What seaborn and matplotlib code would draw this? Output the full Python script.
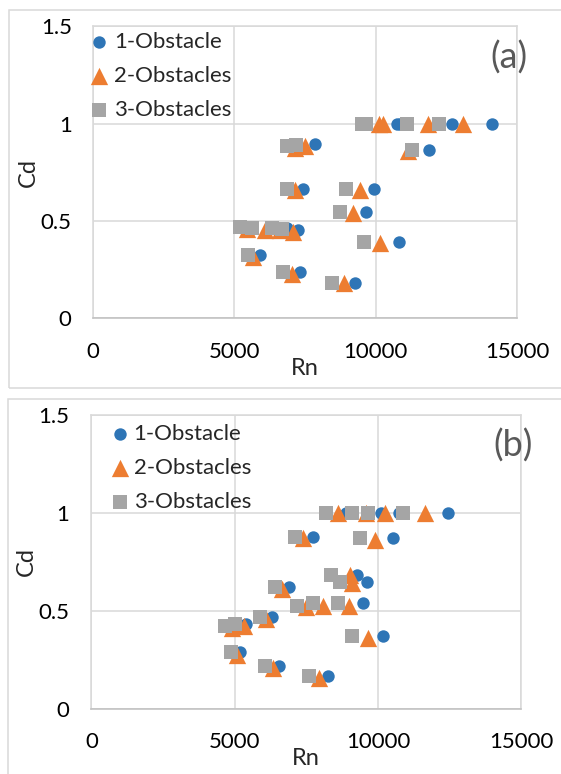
import matplotlib
matplotlib.use('Agg')
import matplotlib.pyplot as plt
from matplotlib.patches import Rectangle
import seaborn as sns

sns.set_style('white')
plt.rcParams['font.family'] = ['Lato', 'DejaVu Sans']

series_names = ['1-Obstacle', '2-Obstacles', '3-Obstacles']
series_colors = ['#2E75B6', '#ED7D31', '#A5A5A5']
series_markers = ['o', '^', 's']
series_sizes = [80, 155, 100]

x_ticks = [0, 5000, 10000, 15000]
y_ticks = [0, 0.5, 1, 1.5]
y_tick_labels = ['0', '0.5', '1', '1.5']

# panel (a)
rn_1a = [14100, 12680, 10850, 10750, 11880, 7840, 9950, 7420, 9670, 7270, 6870, 5490, 10820, 5900, 7310, 9280]
cd_1a = [1.0, 1.0, 1.0, 1.0, 0.865, 0.895, 0.665, 0.665, 0.545, 0.452, 0.465, 0.47, 0.39, 0.322, 0.236, 0.183]
rn_2a = [13100, 11860, 10250, 10100, 11130, 7510, 7160, 9430, 7160, 9200, 7080, 6630, 6100, 5450, 10160, 5680, 7040, 8870]
cd_2a = [1.0, 1.0, 1.0, 1.0, 0.86, 0.885, 0.875, 0.66, 0.66, 0.54, 0.445, 0.455, 0.455, 0.46, 0.385, 0.315, 0.228, 0.178]
rn_3a = [9500, 9650, 11100, 12240, 11280, 6860, 7190, 6860, 8950, 8725, 5210, 5630, 6340, 6690, 9570, 5480, 6740, 8450]
cd_3a = [1.0, 1.0, 1.0, 1.0, 0.863, 0.884, 0.89, 0.666, 0.666, 0.546, 0.47, 0.465, 0.465, 0.46, 0.39, 0.322, 0.236, 0.183]

# panel (b)
rn_1b = [12430, 10750, 10100, 8900, 10510, 7720, 9610, 9260, 6910, 9490, 6300, 5390, 10170, 5190, 6530, 8250]
cd_1b = [1.0, 1.0, 1.0, 1.0, 0.87, 0.879, 0.645, 0.68, 0.622, 0.537, 0.467, 0.431, 0.373, 0.288, 0.218, 0.167]
rn_2b = [11660, 10250, 9570, 8600, 9910, 7380, 9040, 9100, 6650, 9000, 8100, 7490, 6090, 5310, 4900, 9640, 5080, 6320, 7950]
cd_2b = [1.0, 1.0, 1.0, 1.0, 0.862, 0.87, 0.685, 0.64, 0.61, 0.525, 0.525, 0.52, 0.457, 0.42, 0.41, 0.363, 0.274, 0.206, 0.158]
rn_3b = [10890, 9660, 9110, 8200, 9380, 7090, 8360, 8660, 6410, 8590, 7750, 7190, 5890, 5020, 4670, 9090, 4870, 6060, 7580]
cd_3b = [1.0, 1.0, 1.0, 1.0, 0.87, 0.879, 0.68, 0.645, 0.622, 0.537, 0.537, 0.525, 0.467, 0.431, 0.424, 0.373, 0.288, 0.218, 0.167]

fig = plt.figure(figsize=(5.61, 7.74), dpi=100)

# light outer frames like the excel chart areas
fig.patches.append(Rectangle((0.016, 0.4987), 1.2, 0.4883, transform=fig.transFigure,
                             fill=False, edgecolor='#D9D9D9', linewidth=1.1))
fig.patches.append(Rectangle((0.015, -0.2), 1.2, 0.6845, transform=fig.transFigure,
                             fill=False, edgecolor='#D9D9D9', linewidth=1.1))

ax_a = fig.add_axes([0.165, 0.589, 0.757, 0.377])
ax_b = fig.add_axes([0.163, 0.0844, 0.766, 0.3796])


def draw_panel(ax, rns, cds, tag, leg_x, leg_y, leg_pad, ypad):
    for rn, cd, name, col, mk, sz in zip(rns, cds, series_names, series_colors, series_markers, series_sizes):
        sns.scatterplot(x=rn, y=cd, ax=ax, color=col, marker=mk, s=sz, linewidth=0, label=name, zorder=3)
    ax.set_xlim(0, 15000)
    ax.set_ylim(0, 1.5)
    ax.set_xticks(x_ticks)
    ax.set_yticks(y_ticks)
    ax.set_yticklabels(y_tick_labels)
    ax.grid(True, color='#D9D9D9', linewidth=1.1)
    ax.set_axisbelow(True)
    for sp in ax.spines.values():
        sp.set_color('#D9D9D9')
        sp.set_linewidth(1.1)
    ax.spines['bottom'].set_color('#BFBFBF')
    ax.tick_params(axis='x', length=0, pad=17, labelsize=16, labelcolor='black')
    ax.tick_params(axis='y', length=0, pad=ypad, labelsize=16, labelcolor='black')
    ax.set_xlabel('Rn', fontsize=17, labelpad=-3)
    ax.set_ylabel('Cd', fontsize=17, labelpad=1)
    ax.legend(loc='upper left', bbox_to_anchor=(leg_x, leg_y), frameon=False, fontsize=16,
              handlelength=0.8, handletextpad=leg_pad, labelspacing=0.63, borderpad=0,
              borderaxespad=0)
    ax.text(0.98, 0.894, tag, transform=ax.transAxes, fontsize=26, color='#595959',
            ha='center', va='center')


draw_panel(ax_a, [rn_1a, rn_2a, rn_3a], [cd_1a, cd_2a, cd_3a], '(a)', -0.005, 0.98, 0.27, 15)
draw_panel(ax_b, [rn_1b, rn_2b, rn_3b], [cd_1b, cd_2b, cd_3b], '(b)', 0.045, 0.97, 0.23, 16)

fig.savefig('out.png', dpi=100)
